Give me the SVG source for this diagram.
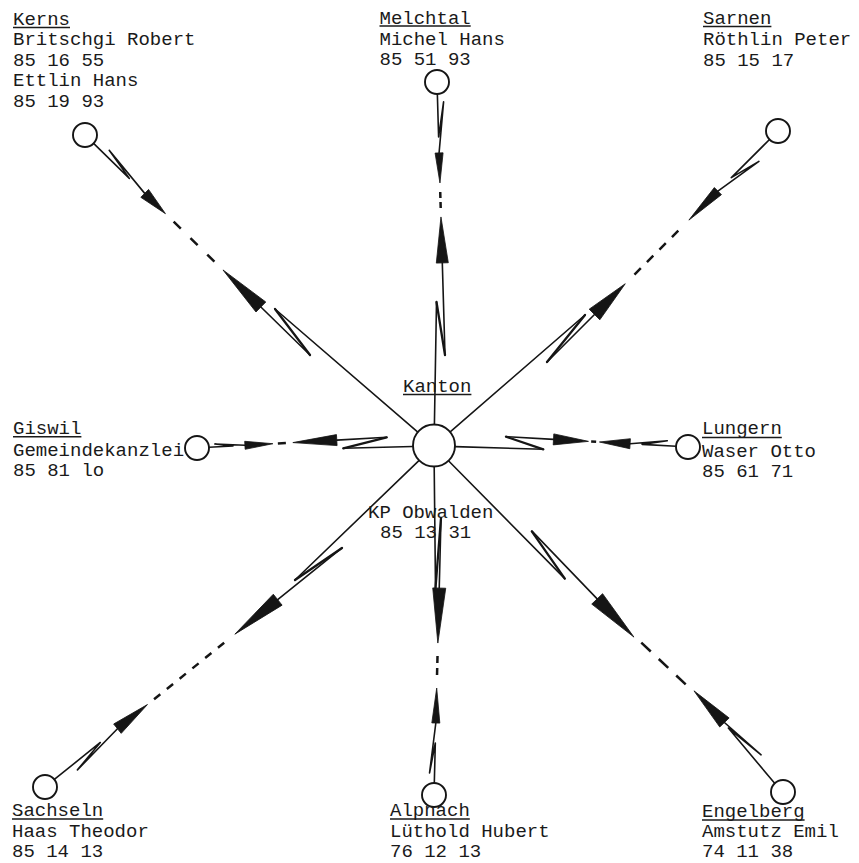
<svg xmlns="http://www.w3.org/2000/svg" width="859" height="863" viewBox="0 0 859 863">
<style>
.bg{fill:#fff}
.ln{fill:none;stroke:#151515;stroke-width:1.6;stroke-linecap:round;stroke-linejoin:round}
.zz{fill:none;stroke:#151515;stroke-width:2.3;stroke-linecap:round;stroke-linejoin:round}
.dash{fill:none;stroke:#151515;stroke-width:2.5}
.ah{fill:#151515;stroke:#151515;stroke-width:0.8;stroke-linejoin:round}
.node{fill:#fff;stroke:#151515;stroke-width:1.9}
.t{font-family:"Liberation Mono","Courier New",monospace;font-size:19px;fill:#1a1a1a}
.ul{stroke:#1a1a1a;stroke-width:1.5}
</style>
<rect class="bg" x="0" y="0" width="859" height="863"/>

<g id="connectors">
  <g id="link-kerns">
    <line class="ln" x1="418.1" y1="432.3" x2="275" y2="309"/>
    <line class="zz" x1="275" y1="309" x2="310" y2="355"/>
    <g transform="translate(85,135) rotate(44.36)">
      <polyline class="ln" points="12,0 62,0 28,-6 83.5,0"/>
      <polygon class="ah" points="112.5,0 83.5,-5.5 83.5,5.5"/>
      <line class="dash" x1="124" y1="0" x2="181" y2="0" stroke-dasharray="10 13.5"/>
      <polygon class="ah" points="193,0 246,-7 246,7"/>
      <line class="ln" x1="246" y1="0" x2="314.7" y2="0"/>
    </g>
  </g>
  <g id="link-melchtal">
    <line class="ln" x1="434.4" y1="425" x2="436.5" y2="302"/>
    <line class="zz" x1="436.5" y1="302" x2="445" y2="355"/>
    <g transform="translate(437,82) rotate(88.32)">
      <polyline class="ln" points="12,0 55,0 20,-6 71,0"/>
      <polygon class="ah" points="101,0 71,-4 71,4"/>
      <line class="dash" x1="110" y1="0" x2="126" y2="0" stroke-dasharray="6 4"/>
      <polygon class="ah" points="135,0 181,-6 181,6"/>
      <line class="ln" x1="181" y1="0" x2="273.1" y2="0"/>
    </g>
  </g>
  <g id="link-sarnen">
    <line class="ln" x1="449.9" y1="432.2" x2="585" y2="315"/>
    <line class="zz" x1="585" y1="315" x2="547" y2="362"/>
    <g transform="translate(778,131) rotate(135)">
      <polyline class="ln" points="12,0 66,0 35,-8 85,0"/>
      <polygon class="ah" points="126,0 85,-5 85,5"/>
      <line class="dash" x1="141" y1="0" x2="203" y2="0" stroke-dasharray="9 8.67"/>
      <polygon class="ah" points="216,0 259.5,-7.5 259.5,7.5"/>
      <line class="ln" x1="259.5" y1="0" x2="326.7" y2="0"/>
    </g>
  </g>
  <g id="link-giswil">
    <line class="ln" x1="413" y1="446.5" x2="343.3" y2="448.3"/>
    <line class="zz" x1="343.3" y1="448.3" x2="386.7" y2="437.3"/>
    <g transform="translate(197,448) rotate(-3.23)">
      <polyline class="ln" points="12,0 36,0 18,-3 48,0"/>
      <polygon class="ah" points="76,0 48,-4 48,4"/>
      <line class="dash" x1="81" y1="0" x2="89" y2="0"/>
      <polygon class="ah" points="96,0 140,-5.5 140,5.5"/>
      <line class="ln" x1="140" y1="0" x2="190" y2="0"/>
    </g>
  </g>
  <g id="link-lungern">
    <line class="ln" x1="455" y1="446.6" x2="543.3" y2="449.3"/>
    <line class="zz" x1="543.3" y1="449.3" x2="506" y2="436.7"/>
    <g transform="translate(688,447) rotate(-176.76)">
      <polyline class="ln" points="12,0 46,0 21,5 58,0"/>
      <polygon class="ah" points="88.7,0 58,-5 58,5"/>
      <line class="dash" x1="92" y1="0" x2="97" y2="0"/>
      <polygon class="ah" points="99.7,0 134.7,-5.5 134.7,5.5"/>
      <line class="ln" x1="134.7" y1="0" x2="182.3" y2="0"/>
    </g>
  </g>
  <g id="link-sachseln">
    <line class="ln" x1="418.9" y1="460.6" x2="295" y2="580"/>
    <line class="zz" x1="295" y1="580" x2="342" y2="548"/>
    <g transform="translate(45,787) rotate(-38.83)">
      <polyline class="ln" points="12,0 71,0 36,7 93,0"/>
      <polygon class="ah" points="131.5,0 93,-6 93,6"/>
      <line class="dash" x1="140" y1="0" x2="230" y2="0" stroke-dasharray="8 8.4"/>
      <polygon class="ah" points="243.7,0 298.7,-7 298.7,7"/>
      <line class="ln" x1="298.7" y1="0" x2="381.2" y2="0"/>
    </g>
  </g>
  <g id="link-alpnach">
    <line class="ln" x1="434.2" y1="466.5" x2="435.5" y2="588"/>
    <line class="zz" x1="435.5" y1="588" x2="441" y2="518"/>
    <g transform="translate(434,795) rotate(-88.55)">
      <polyline class="ln" points="12,0 52,0 22,-5 72,0"/>
      <polygon class="ah" points="107,0 72,-4 72,4"/>
      <line class="dash" x1="120" y1="0" x2="139" y2="0" stroke-dasharray="7 5"/>
      <polygon class="ah" points="152,0 207,-6.5 207,6.5"/>
      <line class="ln" x1="207" y1="0" x2="277.1" y2="0"/>
    </g>
  </g>
  <g id="link-engelberg">
    <line class="ln" x1="448.7" y1="461" x2="564.8" y2="578.6"/>
    <line class="zz" x1="564.8" y1="578.6" x2="531.8" y2="531.4"/>
    <g transform="translate(783,792) rotate(-133.9)">
      <polyline class="ln" points="12,0 84,5 42,10 90.7,6"/>
      <polygon class="ah" points="134.6,6 90.7,-0.5 90.7,12.5"/>
      <line class="dash" x1="145" y1="4.5" x2="206" y2="1.5" stroke-dasharray="13 11"/>
      <polygon class="ah" points="215,0 268,-7.5 268,7.5"/>
      <line class="ln" x1="268" y1="0" x2="362" y2="0"/>
    </g>
  </g>
</g>

<g id="node-kanton">
  <circle class="node" cx="434" cy="445.5" r="21"/>
  <text class="t" x="403" y="392">Kanton</text>
  <line class="ul" x1="403" y1="394.5" x2="471.4" y2="394.5"/>
  <text class="t" x="368" y="518">KP Obwalden</text>
  <text class="t" x="380" y="538">85 13 31</text>
</g>

<g id="node-kerns">
  <circle class="node" cx="85" cy="135" r="12"/>
  <text class="t" x="13" y="25">Kerns</text>
  <line class="ul" x1="13" y1="27.5" x2="70" y2="27.5"/>
  <text class="t" x="13" y="45">Britschgi Robert</text>
  <text class="t" x="13" y="65.5">85 16 55</text>
  <text class="t" x="13" y="86">Ettlin Hans</text>
  <text class="t" x="13" y="107">85 19 93</text>
</g>

<g id="node-melchtal">
  <circle class="node" cx="437" cy="82" r="12"/>
  <text class="t" x="379.5" y="23.5">Melchtal</text>
  <line class="ul" x1="379.5" y1="26" x2="470.7" y2="26"/>
  <text class="t" x="379.5" y="44.5">Michel Hans</text>
  <text class="t" x="379.5" y="65">85 51 93</text>
</g>

<g id="node-sarnen">
  <circle class="node" cx="778" cy="131" r="12"/>
  <text class="t" x="703" y="24">Sarnen</text>
  <line class="ul" x1="703" y1="26.5" x2="771.4" y2="26.5"/>
  <text class="t" x="703" y="45">Röthlin Peter</text>
  <text class="t" x="703" y="65.5">85 15 17</text>
</g>

<g id="node-giswil">
  <circle class="node" cx="197" cy="448" r="12"/>
  <text class="t" x="13" y="434">Giswil</text>
  <line class="ul" x1="13" y1="436.8" x2="81.4" y2="436.8"/>
  <text class="t" x="13" y="455.5">Gemeindekanzlei</text>
  <text class="t" x="13" y="476">85 81 lo</text>
</g>

<g id="node-lungern">
  <circle class="node" cx="688" cy="447" r="12"/>
  <text class="t" x="702" y="434">Lungern</text>
  <line class="ul" x1="702" y1="437.5" x2="781.8" y2="437.5"/>
  <text class="t" x="702" y="456.5">Waser Otto</text>
  <text class="t" x="702" y="476.5">85 61 71</text>
</g>

<g id="node-sachseln">
  <circle class="node" cx="45" cy="787" r="12"/>
  <text class="t" x="12" y="816">Sachseln</text>
  <line class="ul" x1="12" y1="819" x2="103.2" y2="819"/>
  <text class="t" x="12" y="837">Haas Theodor</text>
  <text class="t" x="12" y="857">85 14 13</text>
</g>

<g id="node-alpnach">
  <circle class="node" cx="434" cy="795" r="12"/>
  <text class="t" x="390" y="816">Alpnach</text>
  <line class="ul" x1="390" y1="819" x2="469.8" y2="819"/>
  <text class="t" x="390" y="837">Lüthold Hubert</text>
  <text class="t" x="390" y="857">76 12 13</text>
</g>

<g id="node-engelberg">
  <circle class="node" cx="783" cy="792" r="12"/>
  <text class="t" x="702" y="817">Engelberg</text>
  <line class="ul" x1="702" y1="820" x2="804.6" y2="820"/>
  <text class="t" x="702" y="837">Amstutz Emil</text>
  <text class="t" x="702" y="857">74 11 38</text>
</g>
</svg>
